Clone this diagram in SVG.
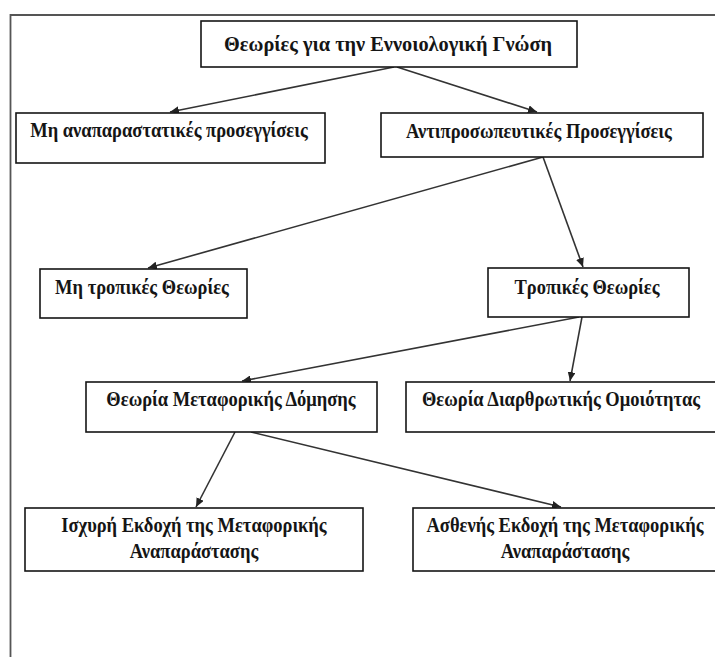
<svg xmlns="http://www.w3.org/2000/svg" width="715" height="657" viewBox="0 0 715 657">
<style>
.box{fill:#fff;stroke:#151515;stroke-width:1.6}
.t{font-family:"Liberation Serif","Times New Roman",serif;font-weight:bold;font-size:18.5px;fill:#151515;text-anchor:middle}
.c{fill:none;stroke:#333;stroke-width:1.6;marker-end:url(#ah)}
</style>
<defs>
<marker id="ah" markerUnits="userSpaceOnUse" markerWidth="10" markerHeight="8" refX="9" refY="4" orient="auto">
<path d="M0,0 L9,4 L0,8 Z" fill="#222"/>
</marker>
</defs>
<rect width="715" height="657" fill="#fff"/>
<path d="M10.5,657 V15 H715" fill="none" stroke="#555" stroke-width="1.8"/>
<g id="connectors">
<line class="c" x1="394" y1="67" x2="170" y2="112"/>
<line class="c" x1="397" y1="67" x2="537" y2="112"/>
<line class="c" x1="543" y1="157" x2="148" y2="268"/>
<line class="c" x1="543" y1="157" x2="583" y2="267"/>
<line class="c" x1="579" y1="317" x2="242" y2="381"/>
<line class="c" x1="582" y1="317" x2="570" y2="381"/>
<line class="c" x1="235" y1="432" x2="196" y2="507"/>
<line class="c" x1="251" y1="432" x2="561" y2="507"/>
</g>
<g id="n-top"><rect class="box" x="201" y="21" width="376" height="46"/><text class="t" transform="translate(388,51) scale(1,1.15)" textLength="328" lengthAdjust="spacingAndGlyphs">Θεωρίες για την Εννοιολογική Γνώση</text></g>
<g id="n-nonrep"><rect class="box" x="16" y="113" width="309" height="50"/><text class="t" transform="translate(169,137) scale(1,1.15)">Μη αναπαραστατικές προσεγγίσεις</text></g>
<g id="n-rep"><rect class="box" x="381" y="113" width="322" height="44"/><text class="t" transform="translate(539,138) scale(1,1.15)">Αντιπροσωπευτικές Προσεγγίσεις</text></g>
<g id="n-nonmodal"><rect class="box" x="40" y="269" width="207" height="49"/><text class="t" transform="translate(142,294) scale(1,1.15)">Μη τροπικές Θεωρίες</text></g>
<g id="n-modal"><rect class="box" x="488" y="268" width="201" height="49"/><text class="t" transform="translate(587,294) scale(1,1.15)">Τροπικές Θεωρίες</text></g>
<g id="n-metaphor"><rect class="box" x="86" y="382" width="291" height="50"/><text class="t" transform="translate(231,406) scale(1,1.15)">Θεωρία Μεταφορικής Δόμησης</text></g>
<g id="n-structural"><rect class="box" x="406" y="382" width="320" height="50"/><text class="t" transform="translate(561,406) scale(1,1.15)">Θεωρία Διαρθρωτικής Ομοιότητας</text></g>
<g id="n-strong"><rect class="box" x="25" y="508" width="338" height="63"/><text class="t" transform="translate(194,532) scale(1,1.15)">Ισχυρή Εκδοχή της Μεταφορικής</text><text class="t" transform="translate(194,558) scale(1,1.15)">Αναπαράστασης</text></g>
<g id="n-weak"><rect class="box" x="413" y="508" width="320" height="63"/><text class="t" transform="translate(565,532) scale(1,1.15)">Ασθενής Εκδοχή της Μεταφορικής</text><text class="t" transform="translate(565,558) scale(1,1.15)">Αναπαράστασης</text></g>
</svg>
